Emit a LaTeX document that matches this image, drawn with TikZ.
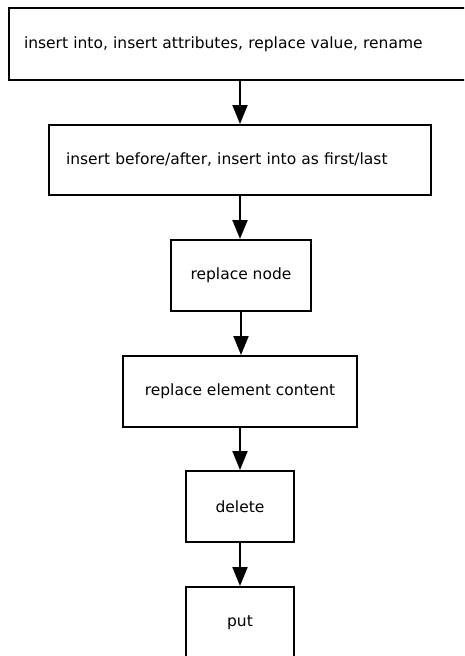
\documentclass[tikz,border=0pt]{standalone}
\usepackage{fontspec}
\setmainfont{DejaVu Sans}
\usetikzlibrary{arrows.meta}
\begin{document}
\begin{tikzpicture}[x=1pt,y=-1pt,
  box/.style={draw, line width=2pt, inner sep=0pt, font=\fontsize{15.5}{18}\selectfont, minimum height=71pt},
  flow/.style={line width=2pt, -{Triangle[length=19pt,width=15pt]}}]
\useasboundingbox (0,0) rectangle (464,656);
\clip (0,0) rectangle (464,656);
\node[box, text width=432pt, inner xsep=15pt, align=left, minimum height=72pt] (b1) at (240,44) {insert into, insert attributes, replace value, rename};
\node[box, text width=348pt, inner xsep=17pt, align=left, minimum height=70pt] (b2) at (240,160) {insert before/after, insert into as first/last};
\node[box, minimum width=140pt] (b3) at (241,275.5) {replace node};
\node[box, minimum width=234pt] (b4) at (240,391.5) {replace element content};
\node[box, minimum width=108pt] (b5) at (240,506.5) {delete};
\node[box, minimum width=108pt] (b6) at (240,622.5) {put};
\draw[flow] (b1.south) -- (b1.south |- b2.north);
\draw[flow] (b2.south) -- (b2.south |- b3.north);
\draw[flow] (b3.south) -- (b3.south |- b4.north);
\draw[flow] (b4.south) -- (b4.south |- b5.north);
\draw[flow] (b5.south) -- (b5.south |- b6.north);
\end{tikzpicture}
\end{document}
